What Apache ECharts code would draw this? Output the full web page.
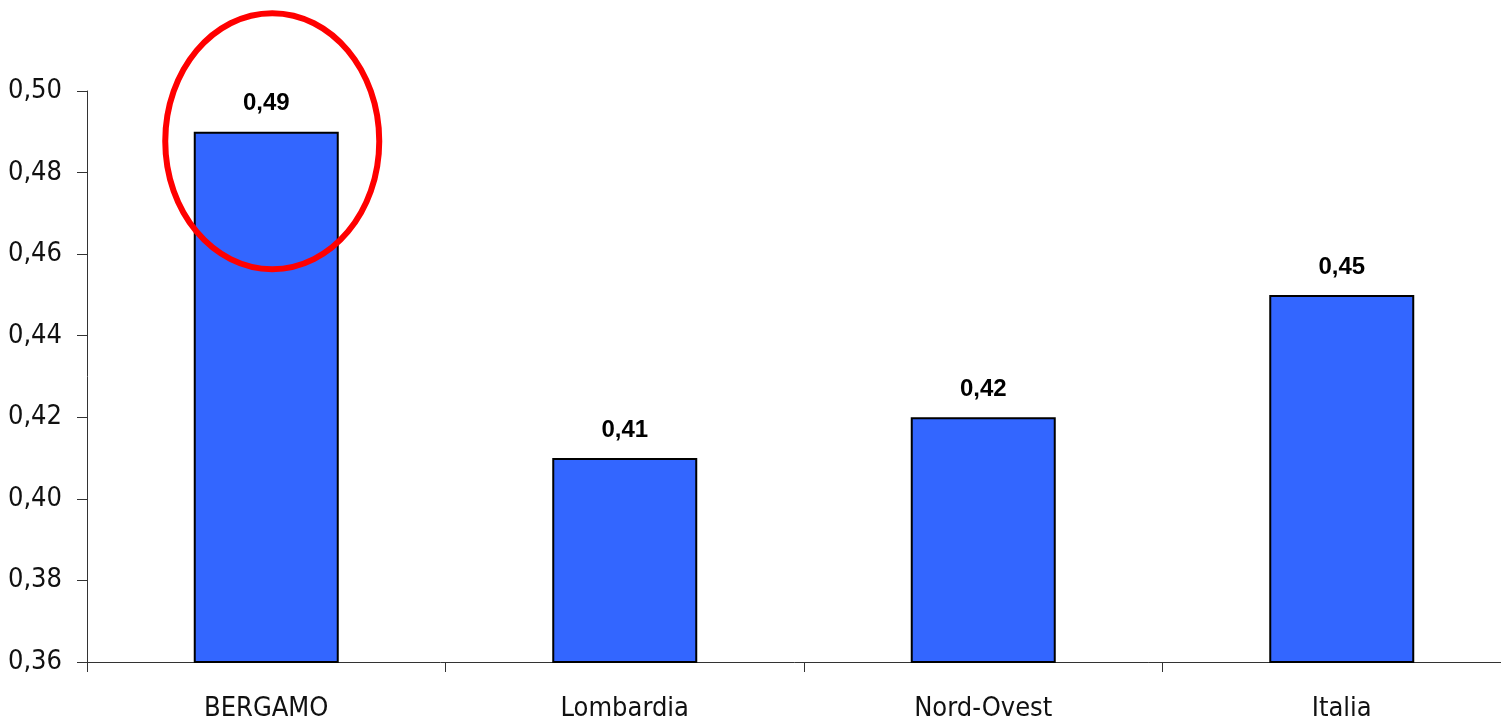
<!DOCTYPE html>
<html><head><meta charset="utf-8">
<script src="https://cdn.jsdelivr.net/npm/echarts@6/dist/echarts.min.js"></script>
<style>html,body{margin:0;padding:0;background:#fff}#c{width:1501px;height:720px}</style>
</head><body><div id="c"></div>
<script>
const categories = ['BERGAMO', 'Lombardia', 'Nord-Ovest', 'Italia'];
const values = [0.49, 0.41, 0.42, 0.45];
const yMin = 0.36, yMax = 0.50, yStep = 0.02;
const highlightCenter = ['BERGAMO', 0.4877];

const narrow = '"Liberation Sans Narrow", "Arial Narrow", "DejaVu Sans Condensed", sans-serif';
const chart = echarts.init(document.getElementById('c'), null, {renderer: 'canvas'});
const fmt = v => v.toFixed(2).replace('.', ',');
chart.setOption({
  animation: false,
  grid: {left: 87, top: 91, right: -20, bottom: 58, containLabel: false, outerBoundsMode: 'none'},
  xAxis: {
    type: 'category', data: categories,
    axisLine: {lineStyle: {color: '#333', width: 1}},
    axisTick: {show: true, length: 10, alignWithLabel: false, lineStyle: {color: '#333'}},
    axisLabel: {fontFamily: narrow, fontSize: 27, color: '#111', margin: 33, interval: 0}
  },
  yAxis: {
    type: 'value', min: yMin, max: yMax, interval: yStep,
    axisLine: {show: true, lineStyle: {color: '#333', width: 1}},
    axisTick: {show: true, length: 10, lineStyle: {color: '#333'}},
    splitLine: {show: false},
    axisLabel: {fontFamily: narrow, fontSize: 27, color: '#111', margin: 25, formatter: fmt}
  },
  series: [{
    type: 'bar', data: values, barWidth: 145,
    itemStyle: {color: '#3366FF', borderColor: '#000', borderWidth: 2},
    label: {show: true, position: 'top', distance: 16, formatter: p => fmt(p.value),
      fontFamily: '"Liberation Sans", Arial, sans-serif', fontWeight: 'bold', fontSize: 24, color: '#000'}
  }]
});
const c = chart.convertToPixel({gridIndex: 0}, highlightCenter);
chart.setOption({
  graphic: [{
    type: 'ellipse', z: 100,
    shape: {cx: c[0] + 6, cy: c[1], rx: 107, ry: 128},
    style: {fill: 'none', stroke: '#FF0000', lineWidth: 6}
  }]
});
</script></body></html>
